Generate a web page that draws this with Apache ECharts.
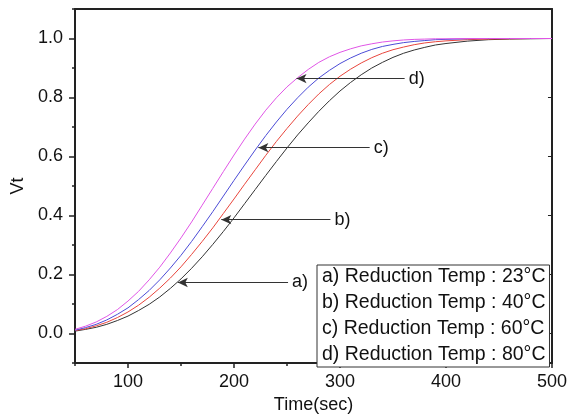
<!DOCTYPE html>
<html>
<head>
<meta charset="utf-8">
<script src="https://cdn.jsdelivr.net/npm/echarts@6.0.0/dist/echarts.min.js"></script>
<style>
  html, body { margin: 0; padding: 0; background: #fff; }
  #chart { width: 570px; height: 420px; }
</style>
</head>
<body>
<div id="chart"></div>
<script>
// time axis (sec)
const times = [50, 60, 70, 80, 90, 100, 110, 120, 130, 140, 150, 160, 170, 180, 190, 200,
  210, 220, 230, 240, 250, 260, 270, 280, 290, 300, 310, 320, 330, 340, 350, 360, 370, 380,
  390, 400, 420, 440, 460, 480, 500]

// a) 23°C
const vtA = [0.008, 0.014, 0.021, 0.031, 0.044, 0.059, 0.078, 0.099, 0.124, 0.153, 0.185, 0.221,
  0.260, 0.302, 0.346, 0.392, 0.440, 0.488, 0.536, 0.583, 0.629, 0.673, 0.714, 0.753, 0.789,
  0.822, 0.851, 0.877, 0.900, 0.919, 0.936, 0.950, 0.961, 0.970, 0.978, 0.983, 0.991, 0.996,
  0.998, 0.999, 1.0]
// b) 40°C
const vtB = [0.010, 0.016, 0.026, 0.038, 0.054, 0.073, 0.096, 0.123, 0.154, 0.188, 0.226, 0.268,
  0.312, 0.358, 0.407, 0.456, 0.506, 0.555, 0.604, 0.651, 0.695, 0.737, 0.776, 0.812, 0.844,
  0.872, 0.896, 0.917, 0.935, 0.950, 0.962, 0.971, 0.979, 0.985, 0.989, 0.992, 0.996, 0.998,
  0.999, 1.0, 1.0]
// c) 60°C
const vtC = [0.011, 0.020, 0.031, 0.046, 0.065, 0.087, 0.115, 0.146, 0.182, 0.222, 0.265, 0.312,
  0.362, 0.413, 0.466, 0.519, 0.571, 0.622, 0.671, 0.717, 0.760, 0.799, 0.835, 0.866, 0.892,
  0.915, 0.934, 0.950, 0.963, 0.973, 0.980, 0.986, 0.990, 0.993, 0.996, 0.997, 0.999, 1.0,
  1.0, 1.0, 1.0]
// d) 80°C
const vtD = [0.014, 0.025, 0.039, 0.058, 0.081, 0.110, 0.143, 0.182, 0.225, 0.273, 0.324, 0.378,
  0.435, 0.492, 0.549, 0.605, 0.659, 0.710, 0.757, 0.799, 0.836, 0.867, 0.895, 0.919, 0.938,
  0.953, 0.965, 0.975, 0.982, 0.988, 0.992, 0.995, 0.997, 0.998, 0.999, 0.999, 1.0, 1.0,
  1.0, 1.0, 1.0]

const seriesNames = ['a) Reduction Temp : 23°C', 'b) Reduction Temp : 40°C',
  'c) Reduction Temp : 60°C', 'd) Reduction Temp : 80°C']
const seriesValues = [vtA, vtB, vtC, vtD]

// arrow annotations: label, height, tip on curve, tail near label
const arrowLabels = ['a)', 'b)', 'c)', 'd)']
const arrowY = [0.173, 0.386, 0.630, 0.864]
const arrowTip = [147, 188, 223, 259]
const arrowTail = [251, 291, 328, 361]

const xTicks = [100, 200, 300, 400, 500]
const yTicks = [0, 0.2, 0.4, 0.6, 0.8, 1.0]

const colors = ['#333333', '#e8453c', '#4b4bd6', '#e055e6']
const font = 'Liberation Sans, Arial, sans-serif'
const axisColor = '#222'

const chart = echarts.init(document.getElementById('chart'))

const series = seriesValues.map((vals, i) => ({
  name: seriesNames[i],
  type: 'line',
  showSymbol: false,
  animation: false,
  data: times.map((t, k) => [t, vals[k]]),
  lineStyle: { color: colors[i], width: 1 },
  itemStyle: { color: colors[i] },
  markLine: {
    silent: true,
    animation: false,
    symbol: ['none', 'arrow'],
    symbolSize: [7, 10],
    lineStyle: { color: '#333', width: 1, type: 'solid' },
    label: {
      show: true,
      position: 'start',
      formatter: arrowLabels[i],
      fontFamily: font,
      fontSize: 18,
      color: '#111',
      distance: 4
    },
    data: [[{ coord: [arrowTail[i], arrowY[i]] }, { coord: [arrowTip[i], arrowY[i]] }]]
  }
}))

// plain axis line settings, never snapped to zero
const frameLine = { show: true, onZero: false, lineStyle: { color: axisColor, width: 2 } }
const noLine = { show: false, onZero: false }

chart.setOption({
  animation: false,
  textStyle: { fontFamily: font },
  grid: { left: 75, right: 18, top: 9, bottom: 57, containLabel: false },
  legend: {
    orient: 'vertical',
    left: 317,
    top: 265,
    icon: 'none',
    itemWidth: 0,
    itemHeight: 19,
    itemGap: 6,
    padding: [2, 4, 2, 0],
    borderColor: '#333',
    borderWidth: 1,
    backgroundColor: '#fff',
    selectedMode: false,
    data: seriesNames,
    textStyle: { fontFamily: font, fontSize: 19.5, color: '#111' }
  },
  xAxis: [
    {
      type: 'value',
      position: 'bottom',
      min: 50,
      max: 500,
      name: 'Time(sec)',
      nameLocation: 'middle',
      nameGap: 30,
      nameTextStyle: { fontFamily: font, fontSize: 18, color: '#111' },
      axisLine: frameLine,
      axisTick: { show: true, customValues: xTicks, length: 5, lineStyle: { color: axisColor, width: 1.5 } },
      axisLabel: { customValues: xTicks, fontFamily: font, fontSize: 18, color: '#111', margin: 10 },
      splitLine: { show: false }
    },
    {
      // minor ticks every 50
      type: 'value',
      position: 'bottom',
      min: 50,
      max: 500,
      interval: 50,
      axisLine: noLine,
      axisTick: { show: true, length: 3, lineStyle: { color: axisColor, width: 1.5 } },
      axisLabel: { show: false },
      splitLine: { show: false }
    },
    {
      type: 'value',
      position: 'top',
      min: 50,
      max: 500,
      axisLine: frameLine,
      axisTick: { show: false },
      axisLabel: { show: false },
      splitLine: { show: false }
    }
  ],
  yAxis: [
    {
      type: 'value',
      position: 'left',
      min: -0.1,
      max: 1.1,
      name: 'Vt',
      nameLocation: 'middle',
      nameGap: 48,
      nameTextStyle: { fontFamily: font, fontSize: 18, color: '#111' },
      axisLine: frameLine,
      axisTick: { show: true, customValues: yTicks, length: 6, lineStyle: { color: axisColor, width: 1.5 } },
      axisLabel: {
        customValues: yTicks,
        fontFamily: font,
        fontSize: 18,
        color: '#111',
        margin: 12,
        formatter: v => v.toFixed(1)
      },
      splitLine: { show: false }
    },
    {
      // minor ticks every 0.1
      type: 'value',
      position: 'left',
      min: -0.1,
      max: 1.1,
      interval: 0.1,
      axisLine: noLine,
      axisTick: { show: true, length: 3, lineStyle: { color: axisColor, width: 1.5 } },
      axisLabel: { show: false },
      splitLine: { show: false }
    },
    {
      type: 'value',
      position: 'right',
      min: -0.1,
      max: 1.1,
      axisLine: frameLine,
      axisTick: { show: true, inside: true, customValues: yTicks, length: 4, lineStyle: { color: axisColor, width: 1 } },
      axisLabel: { show: false },
      splitLine: { show: false }
    }
  ],
  series: series
})
</script>
</body>
</html>
